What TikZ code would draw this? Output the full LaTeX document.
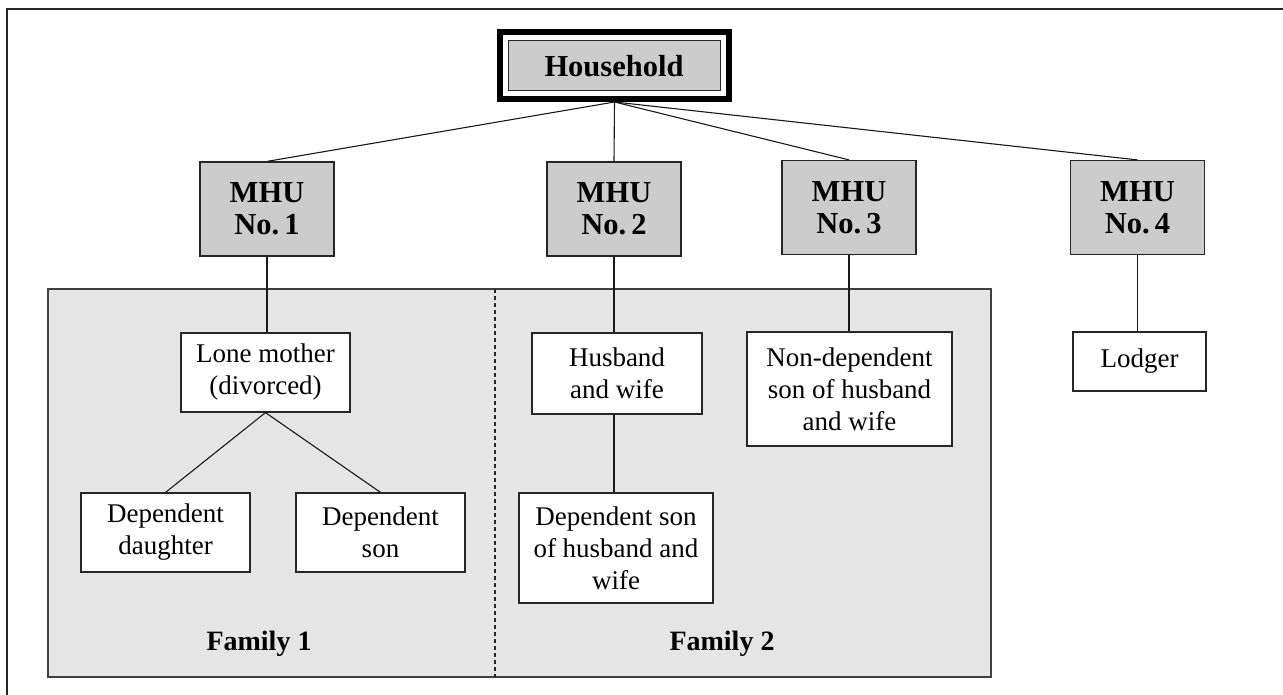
\documentclass[tikz,border=0pt]{standalone}
\usepackage{fontspec}
\setmainfont{Liberation Serif}
\begin{document}
\begin{tikzpicture}[x=1pt,y=-1pt,
  every node/.style={inner sep=0pt,align=center},
  txt/.style={font=\fontsize{27}{32}\selectfont},
  btxt/.style={font=\bfseries\fontsize{30.5}{32}\selectfont},
  mhu/.style={draw=black!85,line width=1.2pt,fill=black!20,minimum width=134pt,minimum height=94pt,btxt},
  wbox/.style={draw=black!85,line width=1.2pt,fill=white,txt},
  conn/.style={line width=1.1pt,black!90}]
\useasboundingbox (0,0) rectangle (1283,695);
% cropped frame
\draw[line width=1.5pt,black!85] (7,695) -- (7,9) -- (1283,9);
% family region
\draw[draw=black!75,line width=1.5pt,fill=black!10] (48,289) rectangle (991,677);
\draw[dash pattern=on 4pt off 3pt,line width=1.1pt,black!85] (495,289) -- (495,677);
\node[font=\bfseries\fontsize{28}{32}\selectfont] (f1) at (259,644) {Family 1};
\node[font=\bfseries\fontsize{28}{32}\selectfont] (f2) at (722,644) {Family 2};
% household
\node[draw=black,line width=6pt,minimum width=229pt,minimum height=67pt] (hh) at (614.5,65.5) {};
\node[draw=black!85,line width=1pt,fill=black!20,minimum width=212pt,minimum height=50pt,btxt] (hhin) at (614,66) {Household};
% MHUs
\node[mhu] (m1) at (267,209) {MHU\\No.\,1};
\node[mhu] (m2) at (614,209) {MHU\\No.\,2};
\node[mhu] (m3) at (849,207.5) {MHU\\No.\,3};
\node[mhu] (m4) at (1137.5,207.5) {MHU\\No.\,4};
% members
\node[wbox,minimum width=169pt,minimum height=79pt] (lm) at (265.5,372.5) {Lone mother\\(divorced)};
\node[wbox,minimum width=169pt,minimum height=79pt] (dd) at (165.5,532.5) {Dependent\\daughter};
\node[wbox,minimum width=169pt,minimum height=79pt] (ds) at (380.5,532.5) {Dependent\\son};
\node[wbox,minimum width=170pt,minimum height=81pt] (hw) at (617,373.5) {Husband\\and wife};
\node[wbox,minimum width=194pt,minimum height=110pt] (dsh) at (616,548) {Dependent son\\of husband and\\wife};
\node[wbox,minimum width=205pt,minimum height=114pt] (nds) at (849.5,389) {Non-dependent\\son of husband\\and wife};
\node[wbox,minimum width=133pt,minimum height=59pt] (lod) at (1139.5,361.5) {Lodger};
% connectors
\draw[conn] (hh.south) -- (m1.north);
\draw[conn] (hh.south) -- (m2.north);
\draw[conn] (hh.south) -- (m3.north);
\draw[conn] (hh.south) -- (m4.north);
\draw[conn] (m1.south) -- (m1.south |- lm.north);
\draw[conn] (lm.south) -- (dd.north);
\draw[conn] (lm.south) -- (ds.north);
\draw[conn] (m2.south) -- (m2.south |- hw.north);
\draw[conn] (hw.south -| m2.south) -- (m2.south |- dsh.north);
\draw[conn] (m3.south) -- (m3.south |- nds.north);
\draw[conn] (m4.south) -- (m4.south |- lod.north);
\end{tikzpicture}
\end{document}
